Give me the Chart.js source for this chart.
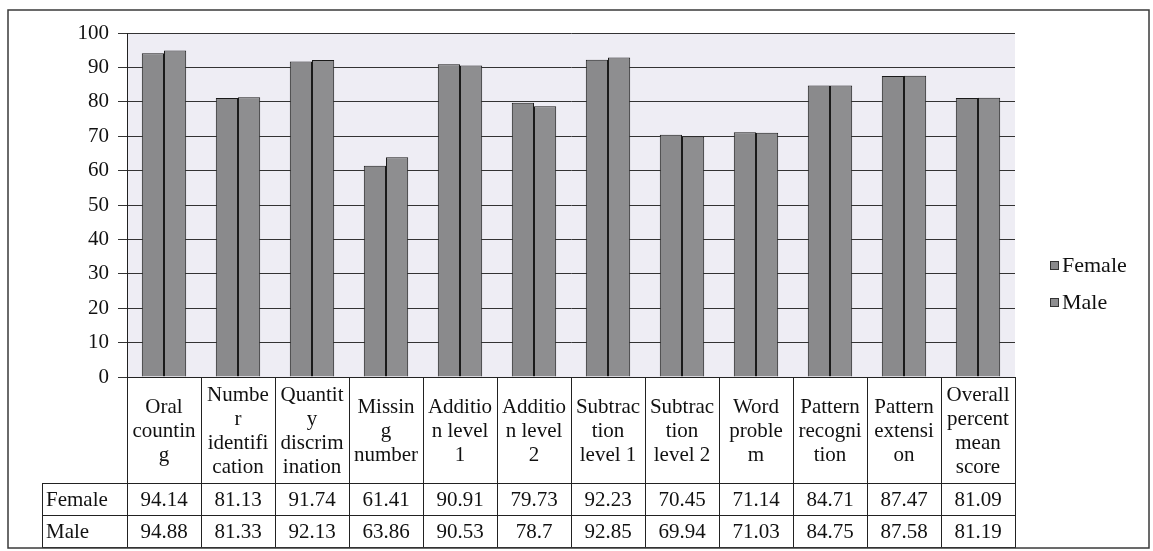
<!DOCTYPE html>
<html>
<head>
<meta charset="utf-8">
<script src="https://cdn.jsdelivr.net/npm/chart.js@4.4.0/dist/chart.umd.min.js"></script>
<style>
  html, body { margin: 0; padding: 0; background: #ffffff; }
  #wrap { width: 1153px; height: 551px; position: relative; }
</style>
</head>
<body>
<div id="wrap"><canvas id="c" width="1153" height="551"></canvas></div>
<script>
// ---- Data ----
const categories = [
  ["Oral", "countin", "g"],
  ["Numbe", "r", "identifi", "cation"],
  ["Quantit", "y", "discrim", "ination"],
  ["Missin", "g", "number"],
  ["Additio", "n level", "1"],
  ["Additio", "n level", "2"],
  ["Subtrac", "tion", "level 1"],
  ["Subtrac", "tion", "level 2"],
  ["Word", "proble", "m"],
  ["Pattern", "recogni", "tion"],
  ["Pattern", "extensi", "on"],
  ["Overall", "percent", "mean", "score"]
];
const femaleValues = [94.14, 81.13, 91.74, 61.41, 90.91, 79.73, 92.23, 70.45, 71.14, 84.71, 87.47, 81.09];
const maleValues   = [94.88, 81.33, 92.13, 63.86, 90.53, 78.7, 92.85, 69.94, 71.03, 84.75, 87.58, 81.19];
const femaleLabels = ["94.14", "81.13", "91.74", "61.41", "90.91", "79.73", "92.23", "70.45", "71.14", "84.71", "87.47", "81.09"];
const maleLabels   = ["94.88", "81.33", "92.13", "63.86", "90.53", "78.7", "92.85", "69.94", "71.03", "84.75", "87.58", "81.19"];
const seriesNames = ["Female", "Male"];
const yTicks = [0, 10, 20, 30, 40, 50, 60, 70, 80, 90, 100];

const FONT = "'Liberation Serif', 'Times New Roman', serif";
const TEXT = "#111111";
const LINE = "#222222";

const bgPlugin = {
  id: 'bgPlugin',
  beforeDraw(chart) {
    const {ctx, chartArea: a} = chart;
    ctx.save();
    ctx.fillStyle = '#ffffff';
    ctx.fillRect(0, 0, chart.width, chart.height);
    ctx.fillStyle = '#eeedf4';
    ctx.fillRect(a.left, a.top, a.right - a.left, a.bottom - a.top);
    ctx.restore();
  }
};

const tablePlugin = {
  id: 'tablePlugin',
  afterDraw(chart) {
    const {ctx, chartArea: a} = chart;
    const xs = chart.scales.x;
    const n = categories.length;
    const w = (a.right - a.left) / n;
    const labTop = a.bottom, labBot = 483, r1 = 515, r2 = 547;
    const headLeft = 42;
    ctx.save();
    ctx.strokeStyle = LINE;
    ctx.lineWidth = 1;
    ctx.beginPath();
    for (let i = 0; i <= n; i++) {
      const x = Math.round(a.left + i * w) + 0.5;
      ctx.moveTo(x, labTop); ctx.lineTo(x, r2);
    }
    ctx.moveTo(headLeft + 0.5, labBot); ctx.lineTo(headLeft + 0.5, r2);
    [labBot, r1, r2].forEach(y => {
      ctx.moveTo(headLeft, y + 0.5); ctx.lineTo(a.right + 1, y + 0.5);
    });
    ctx.stroke();

    ctx.fillStyle = TEXT;
    ctx.textAlign = 'center';
    ctx.textBaseline = 'middle';
    ctx.font = "21px " + FONT;
    for (let i = 0; i < n; i++) {
      const cx = xs.getPixelForValue(i);
      const lines = categories[i];
      const lh = 24;
      const cy = (labTop + labBot) / 2 + 1;
      const start = cy - (lines.length - 1) * lh / 2;
      lines.forEach((t, j) => ctx.fillText(t, cx, start + j * lh));
      ctx.fillText(femaleLabels[i], cx, (labBot + r1) / 2 + 1);
      ctx.fillText(maleLabels[i], cx, (r1 + r2) / 2 + 1);
    }
    ctx.textAlign = 'left';
    ctx.fillText(seriesNames[0], headLeft + 4, (labBot + r1) / 2 + 1);
    ctx.fillText(seriesNames[1], headLeft + 4, (r1 + r2) / 2 + 1);

    // legend
    const legY = [265, 302];
    ctx.font = "22px " + FONT;
    chart.data.datasets.forEach((ds, k) => {
      ctx.fillStyle = ds.backgroundColor;
      ctx.strokeStyle = '#333';
      ctx.fillRect(1050, legY[k] - 4, 9, 9);
      ctx.strokeRect(1050.5, legY[k] - 3.5, 8, 8);
      ctx.fillStyle = TEXT;
      ctx.fillText(ds.label, 1062, legY[k] + 1);
    });

    ctx.strokeStyle = '#3a3a3a';
    ctx.lineWidth = 1.5;
    ctx.strokeRect(8, 10, 1141, 538);
    ctx.restore();
  }
};

new Chart(document.getElementById('c'), {
  type: 'bar',
  data: {
    labels: categories.map(c => c.join(' ')),
    datasets: [
      { label: seriesNames[0], data: femaleValues, backgroundColor: '#8a8a8c', borderColor: '#1a1a1a', borderWidth: 1, barPercentage: 1.0, categoryPercentage: 0.6 },
      { label: seriesNames[1], data: maleValues, backgroundColor: '#8e8e90', borderColor: '#1a1a1a', borderWidth: 1, barPercentage: 1.0, categoryPercentage: 0.6 }
    ]
  },
  options: {
    responsive: false,
    animation: false,
    devicePixelRatio: 1,
    layout: { padding: { left: 0, top: 33, right: 138, bottom: 0 } },
    plugins: { legend: { display: false }, tooltip: { enabled: false } },
    scales: {
      x: {
        ticks: { display: false },
        grid: { display: false },
        border: { display: true, color: LINE, width: 1 },
        afterFit(s) { s.height = 551 - 377; }
      },
      y: {
        min: 0, max: 100,
        afterBuildTicks(s) { s.ticks = yTicks.map(v => ({ value: v })); },
        ticks: { font: { family: FONT, size: 21 }, color: TEXT, padding: 9 },
        grid: { color: '#333333', lineWidth: 1, tickLength: 9, drawTicks: true },
        border: { display: true, color: LINE, width: 1 },
        afterFit(s) { s.width = 127; }
      }
    }
  },
  plugins: [bgPlugin, tablePlugin]
});
</script>
</body>
</html>
